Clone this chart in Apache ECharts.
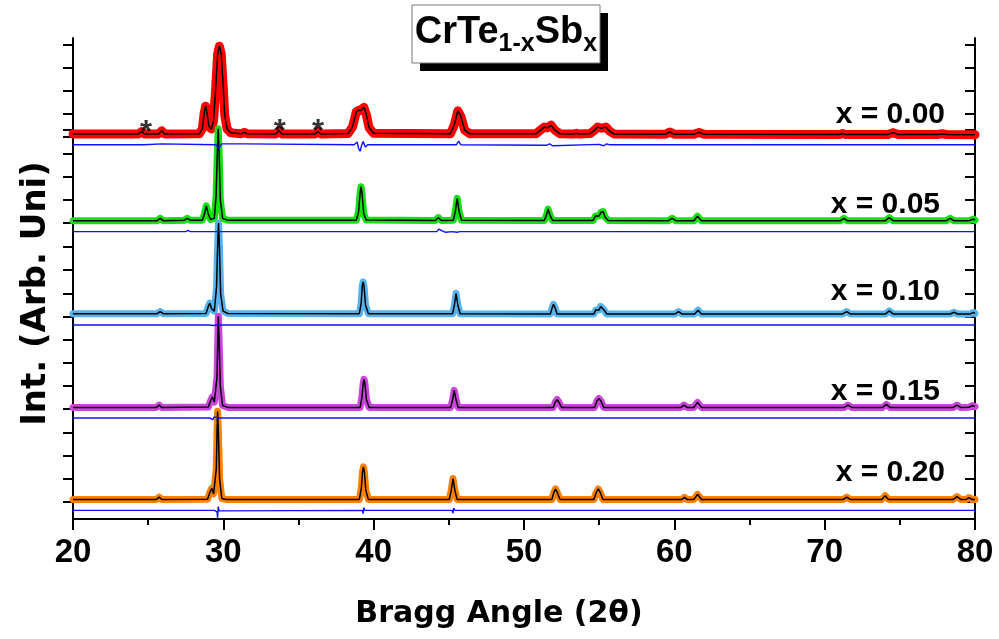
<!DOCTYPE html>
<html>
<head>
<meta charset="utf-8">
<script src="https://cdn.jsdelivr.net/npm/echarts@6/dist/echarts.min.js"></script>
<style>html,body{margin:0;padding:0;background:#fff}#c{width:999px;height:639px}</style>
</head>
<body>
<div id="c"></div>
<script>
// ---- data: [2theta, intensity] (intensity in tick units, one panel = 4 units) ----
const sampleNames = ['x = 0.00', 'x = 0.05', 'x = 0.10', 'x = 0.15', 'x = 0.20'];
const xTicks = [20, 30, 40, 50, 60, 70, 80];

const obs000 = [[20,0.13],[23.5,0.13],[24.35,0.13],[24.55,0.23],[24.75,0.13],[25.7,0.13],[25.9,0.27],[26.1,0.13],[28.4,0.14],[28.6,0.35],[28.72,1.0],[28.82,1.34],[28.92,1.0],[29.05,0.45],[29.2,0.35],[29.35,0.7],[29.5,2.2],[29.62,3.6],[29.74,3.95],[29.86,3.6],[29.98,2.3],[30.1,0.9],[30.25,0.35],[30.5,0.18],[31.2,0.14],[31.4,0.2],[31.6,0.14],[33.5,0.13],[33.7,0.27],[33.9,0.13],[36.1,0.13],[36.3,0.23],[36.5,0.13],[38.3,0.15],[38.6,0.45],[38.85,1.1],[39.0,1.16],[39.15,1.15],[39.35,1.29],[39.5,1.0],[39.7,0.4],[40.0,0.16],[45.1,0.14],[45.35,0.5],[45.6,1.14],[45.8,0.9],[46.05,0.3],[46.4,0.14],[50.8,0.14],[51.1,0.3],[51.35,0.43],[51.55,0.4],[51.8,0.51],[52.05,0.3],[52.4,0.14],[53.3,0.13],[53.5,0.16],[53.7,0.13],[54.4,0.15],[54.7,0.3],[54.9,0.43],[55.15,0.38],[55.45,0.43],[55.7,0.25],[56.0,0.13],[59.4,0.12],[59.7,0.22],[60.0,0.12],[61.3,0.12],[61.65,0.2],[62.0,0.12],[71.0,0.11],[71.2,0.15],[71.4,0.11],[74.2,0.11],[74.55,0.19],[74.9,0.11],[77.5,0.11],[77.8,0.14],[78.1,0.11],[80,0.1]];
const diff000 = [[20,-0.34],[24.55,-0.34],[24.6,-0.3],[24.7,-0.34],[25.9,-0.3],[26.0,-0.34],[29.5,-0.34],[29.6,-0.28],[29.7,-0.48],[29.8,-0.55],[29.9,-0.3],[30.0,-0.36],[31.4,-0.3],[31.5,-0.34],[38.7,-0.34],[38.9,-0.22],[39.0,-0.5],[39.1,-0.62],[39.2,-0.36],[39.3,-0.2],[39.45,-0.44],[39.6,-0.34],[45.5,-0.34],[45.65,-0.18],[45.8,-0.34],[51.5,-0.36],[51.7,-0.3],[51.9,-0.38],[52.0,-0.34],[55.0,-0.32],[55.3,-0.38],[55.5,-0.3],[55.7,-0.34],[80,-0.34]];

const obs005 = [[20,0.1],[25.6,0.1],[25.8,0.2],[26.0,0.1],[27.4,0.12],[27.6,0.2],[27.8,0.12],[28.6,0.12],[28.75,0.4],[28.87,0.74],[28.99,0.4],[29.15,0.15],[29.4,0.2],[29.52,1.2],[29.6,3.0],[29.66,4.05],[29.72,3.0],[29.8,1.0],[29.95,0.2],[30.3,0.12],[38.85,0.12],[39.0,0.5],[39.1,1.3],[39.16,1.56],[39.22,1.3],[39.34,0.4],[39.5,0.13],[44.1,0.11],[44.3,0.23],[44.5,0.11],[45.3,0.12],[45.43,0.5],[45.56,1.06],[45.68,0.5],[45.85,0.12],[51.35,0.11],[51.5,0.35],[51.6,0.6],[51.72,0.35],[51.9,0.11],[54.6,0.11],[54.75,0.3],[54.86,0.37],[55.0,0.3],[55.12,0.46],[55.26,0.49],[55.4,0.25],[55.6,0.11],[59.6,0.1],[59.85,0.2],[60.1,0.1],[61.3,0.1],[61.54,0.29],[61.8,0.1],[71.05,0.1],[71.28,0.2],[71.5,0.1],[74.05,0.1],[74.3,0.23],[74.55,0.1],[78.1,0.1],[78.34,0.2],[78.6,0.1],[79.6,0.1],[79.9,0.17],[80,0.12]];
const diff005 = [[20,-0.37],[27.5,-0.37],[27.65,-0.32],[27.8,-0.37],[28.85,-0.37],[28.9,-0.33],[29.0,-0.37],[29.6,-0.37],[29.65,-0.44],[29.72,-0.32],[29.8,-0.37],[39.1,-0.37],[39.16,-0.42],[39.22,-0.35],[39.3,-0.37],[44.2,-0.37],[44.35,-0.26],[44.55,-0.34],[44.8,-0.4],[45.2,-0.37],[45.56,-0.4],[45.7,-0.37],[51.6,-0.37],[51.65,-0.4],[51.75,-0.37],[80,-0.37]];

const obs010 = [[20,0.14],[25.6,0.14],[25.8,0.23],[26.0,0.14],[28.85,0.15],[29.0,0.45],[29.1,0.59],[29.22,0.35],[29.4,0.25],[29.55,1.3],[29.62,3.0],[29.68,4.0],[29.74,3.0],[29.82,1.0],[29.98,0.25],[30.3,0.15],[39.05,0.14],[39.17,0.6],[39.24,1.3],[39.3,1.49],[39.36,1.3],[39.46,0.5],[39.65,0.14],[45.25,0.14],[45.37,0.5],[45.48,1.01],[45.6,0.5],[45.75,0.14],[51.75,0.13],[51.88,0.4],[51.96,0.54],[52.06,0.4],[52.2,0.13],[54.65,0.13],[54.78,0.3],[54.88,0.34],[55.0,0.3],[55.1,0.45],[55.2,0.49],[55.32,0.3],[55.5,0.13],[60.05,0.13],[60.28,0.23],[60.5,0.13],[61.35,0.13],[61.58,0.29],[61.8,0.13],[71.2,0.13],[71.47,0.23],[71.7,0.13],[74.05,0.13],[74.3,0.26],[74.55,0.13],[78.35,0.13],[78.6,0.2],[78.85,0.13],[79.7,0.13],[79.9,0.2],[80,0.15]];
const diff010 = [[20,-0.34],[29.1,-0.34],[29.2,-0.3],[29.3,-0.36],[29.6,-0.34],[29.66,-0.42],[29.72,-0.3],[29.8,-0.34],[39.25,-0.34],[39.3,-0.4],[39.36,-0.32],[39.45,-0.34],[45.4,-0.34],[45.5,-0.3],[45.6,-0.34],[80,-0.34]];

const obs015 = [[20,0.07],[25.55,0.07],[25.73,0.17],[25.9,0.07],[29.0,0.09],[29.15,0.35],[29.27,0.53],[29.4,0.3],[29.5,0.3],[29.58,1.4],[29.63,3.0],[29.67,4.03],[29.72,3.0],[29.8,1.0],[29.95,0.15],[30.3,0.07],[39.1,0.07],[39.22,0.5],[39.3,1.1],[39.36,1.29],[39.42,1.1],[39.52,0.4],[39.7,0.07],[45.12,0.07],[45.25,0.4],[45.36,0.81],[45.48,0.4],[45.62,0.07],[51.95,0.07],[52.08,0.3],[52.2,0.41],[52.32,0.3],[52.5,0.07],[54.7,0.07],[54.85,0.35],[54.98,0.46],[55.12,0.35],[55.3,0.07],[60.45,0.07],[60.64,0.17],[60.85,0.07],[61.3,0.07],[61.54,0.29],[61.8,0.07],[71.3,0.07],[71.55,0.17],[71.8,0.07],[73.85,0.07],[74.1,0.2],[74.35,0.07],[78.55,0.07],[78.8,0.17],[79.05,0.07],[79.6,0.08],[79.85,0.15],[80,0.1]];
const diff015 = [[20,-0.39],[29.1,-0.39],[29.2,-0.32],[29.3,-0.46],[29.4,-0.34],[29.5,-0.39],[29.6,-0.39],[29.66,-0.46],[29.72,-0.32],[29.8,-0.39],[39.3,-0.39],[39.36,-0.47],[39.42,-0.32],[39.5,-0.39],[45.3,-0.39],[45.36,-0.34],[45.45,-0.39],[52.2,-0.39],[52.25,-0.34],[52.3,-0.39],[80,-0.39]];

const obs020 = [[20,0.11],[25.55,0.11],[25.73,0.21],[25.9,0.11],[28.95,0.12],[29.1,0.4],[29.23,0.59],[29.35,0.35],[29.45,0.35],[29.53,1.4],[29.58,3.0],[29.62,3.9],[29.67,3.0],[29.75,1.0],[29.9,0.15],[30.2,0.11],[39.05,0.11],[39.18,0.6],[39.26,1.3],[39.32,1.51],[39.38,1.3],[39.48,0.5],[39.65,0.11],[45.03,0.11],[45.16,0.5],[45.28,1.01],[45.4,0.5],[45.55,0.11],[51.85,0.11],[51.98,0.4],[52.1,0.56],[52.22,0.4],[52.4,0.11],[54.65,0.11],[54.8,0.4],[54.94,0.56],[55.08,0.4],[55.25,0.11],[60.5,0.11],[60.68,0.2],[60.85,0.11],[61.3,0.11],[61.54,0.33],[61.8,0.11],[71.25,0.11],[71.47,0.21],[71.7,0.11],[73.8,0.11],[74.02,0.27],[74.25,0.11],[78.55,0.11],[78.8,0.23],[79.05,0.11],[79.4,0.11],[79.6,0.19],[79.8,0.11],[80,0.11]];
const diff020 = [[20,-0.36],[29.4,-0.36],[29.5,-0.3],[29.58,-0.42],[29.62,-0.68],[29.66,-0.2],[29.72,-0.38],[29.8,-0.36],[39.25,-0.36],[39.3,-0.5],[39.34,-0.24],[39.4,-0.36],[45.22,-0.36],[45.28,-0.48],[45.32,-0.26],[45.4,-0.36],[52.05,-0.36],[52.1,-0.44],[52.15,-0.3],[52.2,-0.36],[54.9,-0.36],[54.95,-0.42],[55.0,-0.32],[55.05,-0.36],[80,-0.36]];

// calculated (fit) profiles follow the observed ones
const calc000 = obs000, calc005 = obs005, calc010 = obs010, calc015 = obs015, calc020 = obs020;

// impurity markers (*) in x = 0.00
const starX = [24.85, 33.75, 36.3];
const starY = [0.17, 0.2, 0.2];

// ---- styling / layout ----
const obsSets = [obs000, obs005, obs010, obs015, obs020];
const calcSets = [calc000, calc005, calc010, calc015, calc020];
const diffSets = [diff000, diff005, diff010, diff015, diff020];
const obsColors = ['#FF0000', '#14E014', '#55B4EE', '#CC44DD', '#FF8000'];
const obsWidths = [9, 7, 7, 7, 7];
const panelTop = [45, 130, 223, 317, 409];
const panelBottom = [137, 223, 317, 409, 502];
const labelPos = [[945, 115], [940, 205], [940, 292], [940, 392], [945, 473]];
const FONT = '"Liberation Sans", Arial, sans-serif';
const WFONT = '"DejaVu Sans", "Liberation Sans", sans-serif';
const H = 639, W = 999, L = 73, R = 24;

const grids = [{left: L, right: R, top: 38, bottom: H - 519}];
const xAxes = [
  {type: 'value', gridIndex: 0, min: 20, max: 80, interval: 10, position: 'bottom',
   axisLine: {show: true, lineStyle: {color: '#000', width: 2}},
   axisTick: {show: true, inside: false, length: 11, lineStyle: {color: '#000', width: 2}},
   minorTick: {show: true, splitNumber: 2, length: 6, lineStyle: {color: '#000', width: 2}},
   axisLabel: {show: true, margin: 17, color: '#000', fontSize: 33, fontWeight: 'bold', fontFamily: FONT},
   splitLine: {show: false},
   name: 'Bragg Angle (2θ)', nameLocation: 'middle', nameGap: 80,
   nameTextStyle: {color: '#000', fontSize: 30, fontWeight: 'bold', fontFamily: WFONT, padding: [0, 50, 0, 0]}},
  {type: 'value', gridIndex: 0, min: 20, max: 80, interval: 10, position: 'top',
   axisLine: {show: true, lineStyle: {color: '#000', width: 2}},
   axisTick: {show: true, inside: true, length: 11, lineStyle: {color: '#000', width: 2}},
   minorTick: {show: true, splitNumber: 2, length: 6, lineStyle: {color: '#000', width: 2}},
   axisLabel: {show: false}, splitLine: {show: false}}
];
const yAxes = [
  {type: 'value', gridIndex: 0, position: 'left', min: 0, max: 1,
   axisLine: {show: true, lineStyle: {color: '#000', width: 2}},
   axisTick: {show: false}, axisLabel: {show: false}, splitLine: {show: false},
   name: 'Int. (Arb. Uni)', nameLocation: 'middle', nameGap: 20,
   nameTextStyle: {color: '#000', fontSize: 34, fontWeight: 'bold', fontFamily: WFONT, padding: [0, 30, 0, 0]}},
  {type: 'value', gridIndex: 0, position: 'right', min: 0, max: 1,
   axisLine: {show: true, lineStyle: {color: '#000', width: 2}},
   axisTick: {show: false}, axisLabel: {show: false}, splitLine: {show: false}}
];
const series = [];
for (let k = 0; k < 5; k++) {
  const g = k + 1;
  grids.push({left: L, right: R, top: panelTop[k], height: panelBottom[k] - panelTop[k]});
  xAxes.push({type: 'value', gridIndex: g, min: 20, max: 80, show: false});
  const yBase = {type: 'value', gridIndex: g, min: 0, max: 4, interval: 1,
    axisLine: {show: false}, axisLabel: {show: false}, splitLine: {show: false}};
  yAxes.push(Object.assign({}, yBase, {position: 'left',
    axisTick: {show: true, inside: false, length: 10, lineStyle: {color: '#000', width: 2}}}));
  yAxes.push(Object.assign({}, yBase, {position: 'right',
    axisTick: {show: true, inside: true, length: 10, lineStyle: {color: '#000', width: 2}}}));
  const xi = 2 + k, yi = 2 + 2 * k;
  series.push({type: 'line', name: 'obs ' + sampleNames[k], xAxisIndex: xi, yAxisIndex: yi, data: obsSets[k],
    showSymbol: false, clip: false, z: 2, lineStyle: {color: obsColors[k], width: obsWidths[k], join: 'round', cap: 'round'}});
  series.push({type: 'line', name: 'calc ' + sampleNames[k], xAxisIndex: xi, yAxisIndex: yi, data: calcSets[k],
    showSymbol: false, clip: false, z: 3, lineStyle: {color: '#000', width: 1.5}});
  series.push({type: 'line', name: 'diff ' + sampleNames[k], xAxisIndex: xi, yAxisIndex: yi, data: diffSets[k],
    showSymbol: false, clip: false, z: 4, lineStyle: {color: '#1010FF', width: 1.4}});
}
series.push({type: 'scatter', name: 'impurity', xAxisIndex: 2, yAxisIndex: 2,
  data: starX.map((x, i) => [x, starY[i]]), symbolSize: 1, clip: false, z: 5,
  itemStyle: {color: 'rgba(0,0,0,0)'},
  label: {show: true, position: 'inside', formatter: '*', color: '#000', fontSize: 31, fontWeight: 'bold', fontFamily: FONT}});

// title box: CrTe(1-x)Sb(x) laid out piece by piece
const titlePieces = [['CrTe', 38, false], ['1-x', 25, true], ['Sb', 38, false], ['x', 25, true]];
const mctx = document.createElement('canvas').getContext('2d');
const pieceW = titlePieces.map(p => { mctx.font = 'bold ' + p[1] + 'px ' + FONT; return mctx.measureText(p[0]).width; });
const totalW = pieceW.reduce((a, b) => a + b, 0);
let cx = 506 - totalW / 2;
const graphics = [
  {type: 'rect', shape: {x: 420, y: 13, width: 188, height: 58}, style: {fill: '#000'}, z: 100},
  {type: 'rect', shape: {x: 412, y: 5, width: 188, height: 58}, style: {fill: '#fff', stroke: '#777', lineWidth: 1}, z: 101}
];
titlePieces.forEach((p, i) => {
  const baseY = p[2] ? 53 : 45.5;
  graphics.push({type: 'text', x: cx, y: baseY - 0.35 * p[1], z: 102,
    style: {text: p[0], fill: '#000', font: 'bold ' + p[1] + 'px ' + FONT, textAlign: 'left', textVerticalAlign: 'middle'}});
  cx += pieceW[i];
});
sampleNames.forEach((t, k) => {
  graphics.push({type: 'text', x: labelPos[k][0], y: labelPos[k][1], z: 50,
    style: {text: t, fill: '#000', font: 'bold 30px ' + FONT, textAlign: 'right', textVerticalAlign: 'middle'}});
});

const chart = echarts.init(document.getElementById('c'), null, {renderer: 'canvas'});
chart.setOption({
  animation: false,
  backgroundColor: '#fff',
  grid: grids, xAxis: xAxes, yAxis: yAxes, series: series, graphic: graphics
});
</script>
</body>
</html>
